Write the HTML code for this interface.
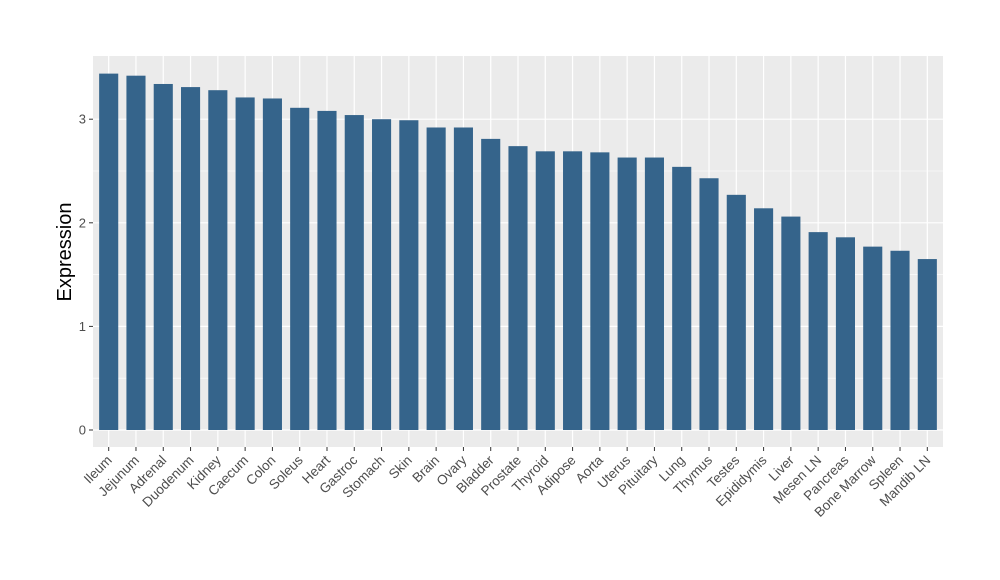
<!DOCTYPE html>
<html><head><meta charset="utf-8"><style>
body{margin:0;background:#fff;}
svg{display:block;font-family:"Liberation Sans",Arial,sans-serif;}
</style></head><body>
<svg id="chart" width="1000" height="580" xmlns="http://www.w3.org/2000/svg">
<rect x="0" y="0" width="1000" height="580" fill="#fff"/>
<g id="panel"></g>
<text x="71" y="252" font-size="20" text-anchor="middle" transform="rotate(-90 71 252)" fill="#000">Expression</text>
</svg>
<script>
const categories=["Ileum","Jejunum","Adrenal","Duodenum","Kidney","Caecum","Colon","Soleus","Heart","Gastroc","Stomach","Skin","Brain","Ovary","Bladder","Prostate","Thyroid","Adipose","Aorta","Uterus","Pituitary","Lung","Thymus","Testes","Epididymis","Liver","Mesen LN","Pancreas","Bone Marrow","Spleen","Mandib LN"];
const values=[3.44,3.42,3.34,3.31,3.28,3.21,3.20,3.11,3.08,3.04,3.00,2.99,2.92,2.92,2.81,2.74,2.69,2.69,2.68,2.63,2.63,2.54,2.43,2.27,2.14,2.06,1.91,1.86,1.77,1.73,1.65];
const yTicks=[0,1,2,3];
const yTickLabels=["0","1","2","3"];

const NS="http://www.w3.org/2000/svg";
const P={l:93,r:943,t:56,b:447};
const y0=430, unit=103.6;
const yScale=v=>y0-v*unit;
const step=(P.r-P.l)/(categories.length+0.15);
const xScale=i=>P.l+step*(0.575+i);
const bw=step*0.7;
const g=document.getElementById('panel');
function mk(tag,attrs,parent){const e=document.createElementNS(NS,tag);for(const k in attrs)e.setAttribute(k,attrs[k]);(parent||g).appendChild(e);return e;}
const bg=mk('rect',{x:P.l,y:P.t,width:P.r-P.l,height:P.b-P.t,fill:'#ebebeb'});


// minor y gridlines
for(let i=0;i<yTicks.length-1;i++){
  const yy=yScale((yTicks[i]+yTicks[i+1])/2);
  const l=mk('line',{x1:P.l,x2:P.r,y1:yy,y2:yy,stroke:'#fff','stroke-width':0.6});
  
  
}
yTicks.forEach((t,i)=>{
  const yy=yScale(t);
  const l=mk('line',{x1:P.l,x2:P.r,y1:yy,y2:yy,stroke:'#fff','stroke-width':1.2});
  
  
  const tk=mk('line',{x1:P.l-4,x2:P.l,y1:yy,y2:yy,stroke:'#333','stroke-width':1});
  
  
  const tx=mk('text',{x:P.l-7,y:yy+4.5,'font-size':13,'text-anchor':'end',fill:'#4d4d4d'});
  tx.textContent=yTickLabels[i];
  
  
});
categories.forEach((c,i)=>{
  const cx=xScale(i);
  const vl=mk('line',{x1:cx,x2:cx,y1:P.t,y2:P.b,stroke:'#fff','stroke-width':1.2});
  
  
});
categories.forEach((c,i)=>{
  const cx=xScale(i);
  const top=yScale(values[i]);
  const r=mk('rect',{x:cx-bw/2,y:top,width:bw,height:y0-top,fill:'#35648b'});
  
  
  const tk=mk('line',{x1:cx,x2:cx,y1:P.b,y2:P.b+4,stroke:'#333','stroke-width':1});
  
  
  const tx=mk('text',{x:cx+4,y:P.b+14,'font-size':13.5,'text-anchor':'end',fill:'#4d4d4d',transform:`rotate(-45 ${cx+4} ${P.b+14})`});
  tx.textContent=c;
  
  
});
</script>
</body></html>
